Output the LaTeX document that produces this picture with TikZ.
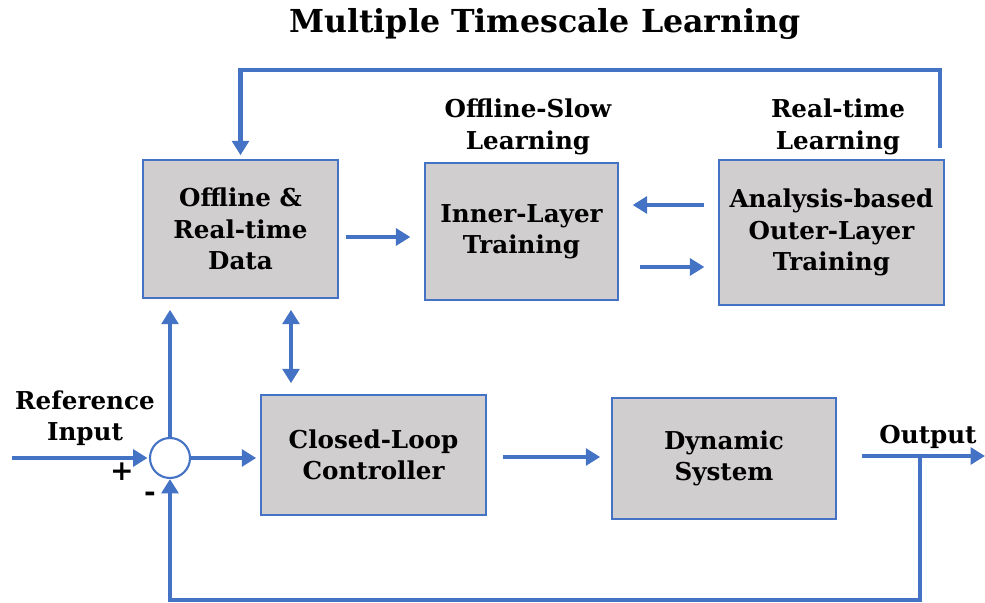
\documentclass[tikz,border=0pt]{standalone}
\usepackage{fontspec}
\setmainfont{DejaVu Serif}
\usepackage{tikz}
\usetikzlibrary{arrows.meta,calc}

\definecolor{lineblue}{HTML}{4472C4}
\definecolor{boxgray}{HTML}{D0CECE}

\begin{document}
\begin{tikzpicture}[%
  x=0.025cm, y=-0.025cm,
  block/.style={draw=lineblue, line width=0.8pt, fill=boxgray, align=center,
    font=\fontsize{17.5}{22.3}\selectfont\bfseries, inner sep=0pt},
  lbl/.style={align=center, font=\fontsize{17.5}{22.3}\selectfont\bfseries},
  flow/.style={draw=lineblue, line width=3.5pt,
    -{Triangle[length=0.36cm,width=0.42cm]}},
  wire/.style={draw=lineblue, line width=3.5pt}]
  \useasboundingbox (0,0) rectangle (985,603);
  \node[font=\fontsize{22.5}{26}\selectfont\bfseries] (title) at (545,24)
    {Multiple Timescale Learning};
  % upper row
  \node[block, minimum width=4.875cm, minimum height=3.45cm] (data) at (240.5,229)
    {Offline \&\\Real-time\\Data};
  \node[block, minimum width=4.825cm, minimum height=3.425cm] (inner) at (521.5,231.5)
    {Inner-Layer\\Training};
  \node[block, minimum width=5.625cm, minimum height=3.625cm] (outer) at (831.5,232.5)
    {Analysis-based\\Outer-Layer\\Training};
  \node[lbl] (slowlbl) at (528,127) {Offline-Slow\\Learning};
  \node[lbl] (rtlbl) at (838,127) {Real-time\\Learning};
  % lower row
  \node[block, minimum width=5.625cm, minimum height=3cm] (ctrl) at (373.5,455)
    {Closed-Loop\\Controller};
  \node[block, minimum width=5.6cm, minimum height=3.025cm] (dyn) at (724,458.5)
    {Dynamic\\System};
  \node[draw=lineblue, line width=1.5pt, fill=white, circle, minimum size=1cm,
    inner sep=0pt] (sum) at (170,458) {};
  \node[lbl] (reflbl) at (85,418) {Reference\\Input};
  \node[lbl] (outlbl) at (928,437) {Output};
  \node[font=\fontsize{20}{22}\selectfont\bfseries] (plus) at (122,472) {+};
  \node[font=\fontsize{20}{22}\selectfont\bfseries] (minus) at (150,497) {-};
  \coordinate (refin) at (12,458);
  \coordinate (out) at (985,456);
  \coordinate (fb) at (920,456);
  % connectors
  \draw[flow, shorten <=5pt, shorten >=10pt] (data.east |- 0,237) -- (inner.west |- 0,237);
  \draw[flow, shorten <=10pt, shorten >=10pt] (outer.west |- 0,205) -- (inner.east |- 0,205);
  \draw[flow, shorten <=15pt, shorten >=10pt] (inner.east |- 0,267) -- (outer.west |- 0,267);
  \draw[flow, shorten <=8pt, shorten >=3pt] (940,0 |- outer.north)
    -- (940,70) -| (data.north);
  \draw[flow, shorten >=1pt] (refin) -- (sum.west);
  \draw[flow, shorten >=8pt] (sum.north) -- (sum.north |- data.south);
  \draw[flow, {Triangle[length=0.36cm,width=0.42cm]}-{Triangle[length=0.36cm,width=0.42cm]},
    shorten <=8pt, shorten >=8pt] (291,0 |- data.south) -- (291,0 |- ctrl.north);
  \draw[flow, shorten >=3pt] (sum.east) -- (sum.east -| ctrl.west);
  \draw[flow, shorten <=12pt, shorten >=8pt] (ctrl.east |- 0,457) -- (dyn.west |- 0,457);
  \draw[flow, shorten <=18pt] (dyn.east |- out) -- (out);
  \draw[flow] (fb) -- (920,600) -| (sum.south);
\end{tikzpicture}
\end{document}
